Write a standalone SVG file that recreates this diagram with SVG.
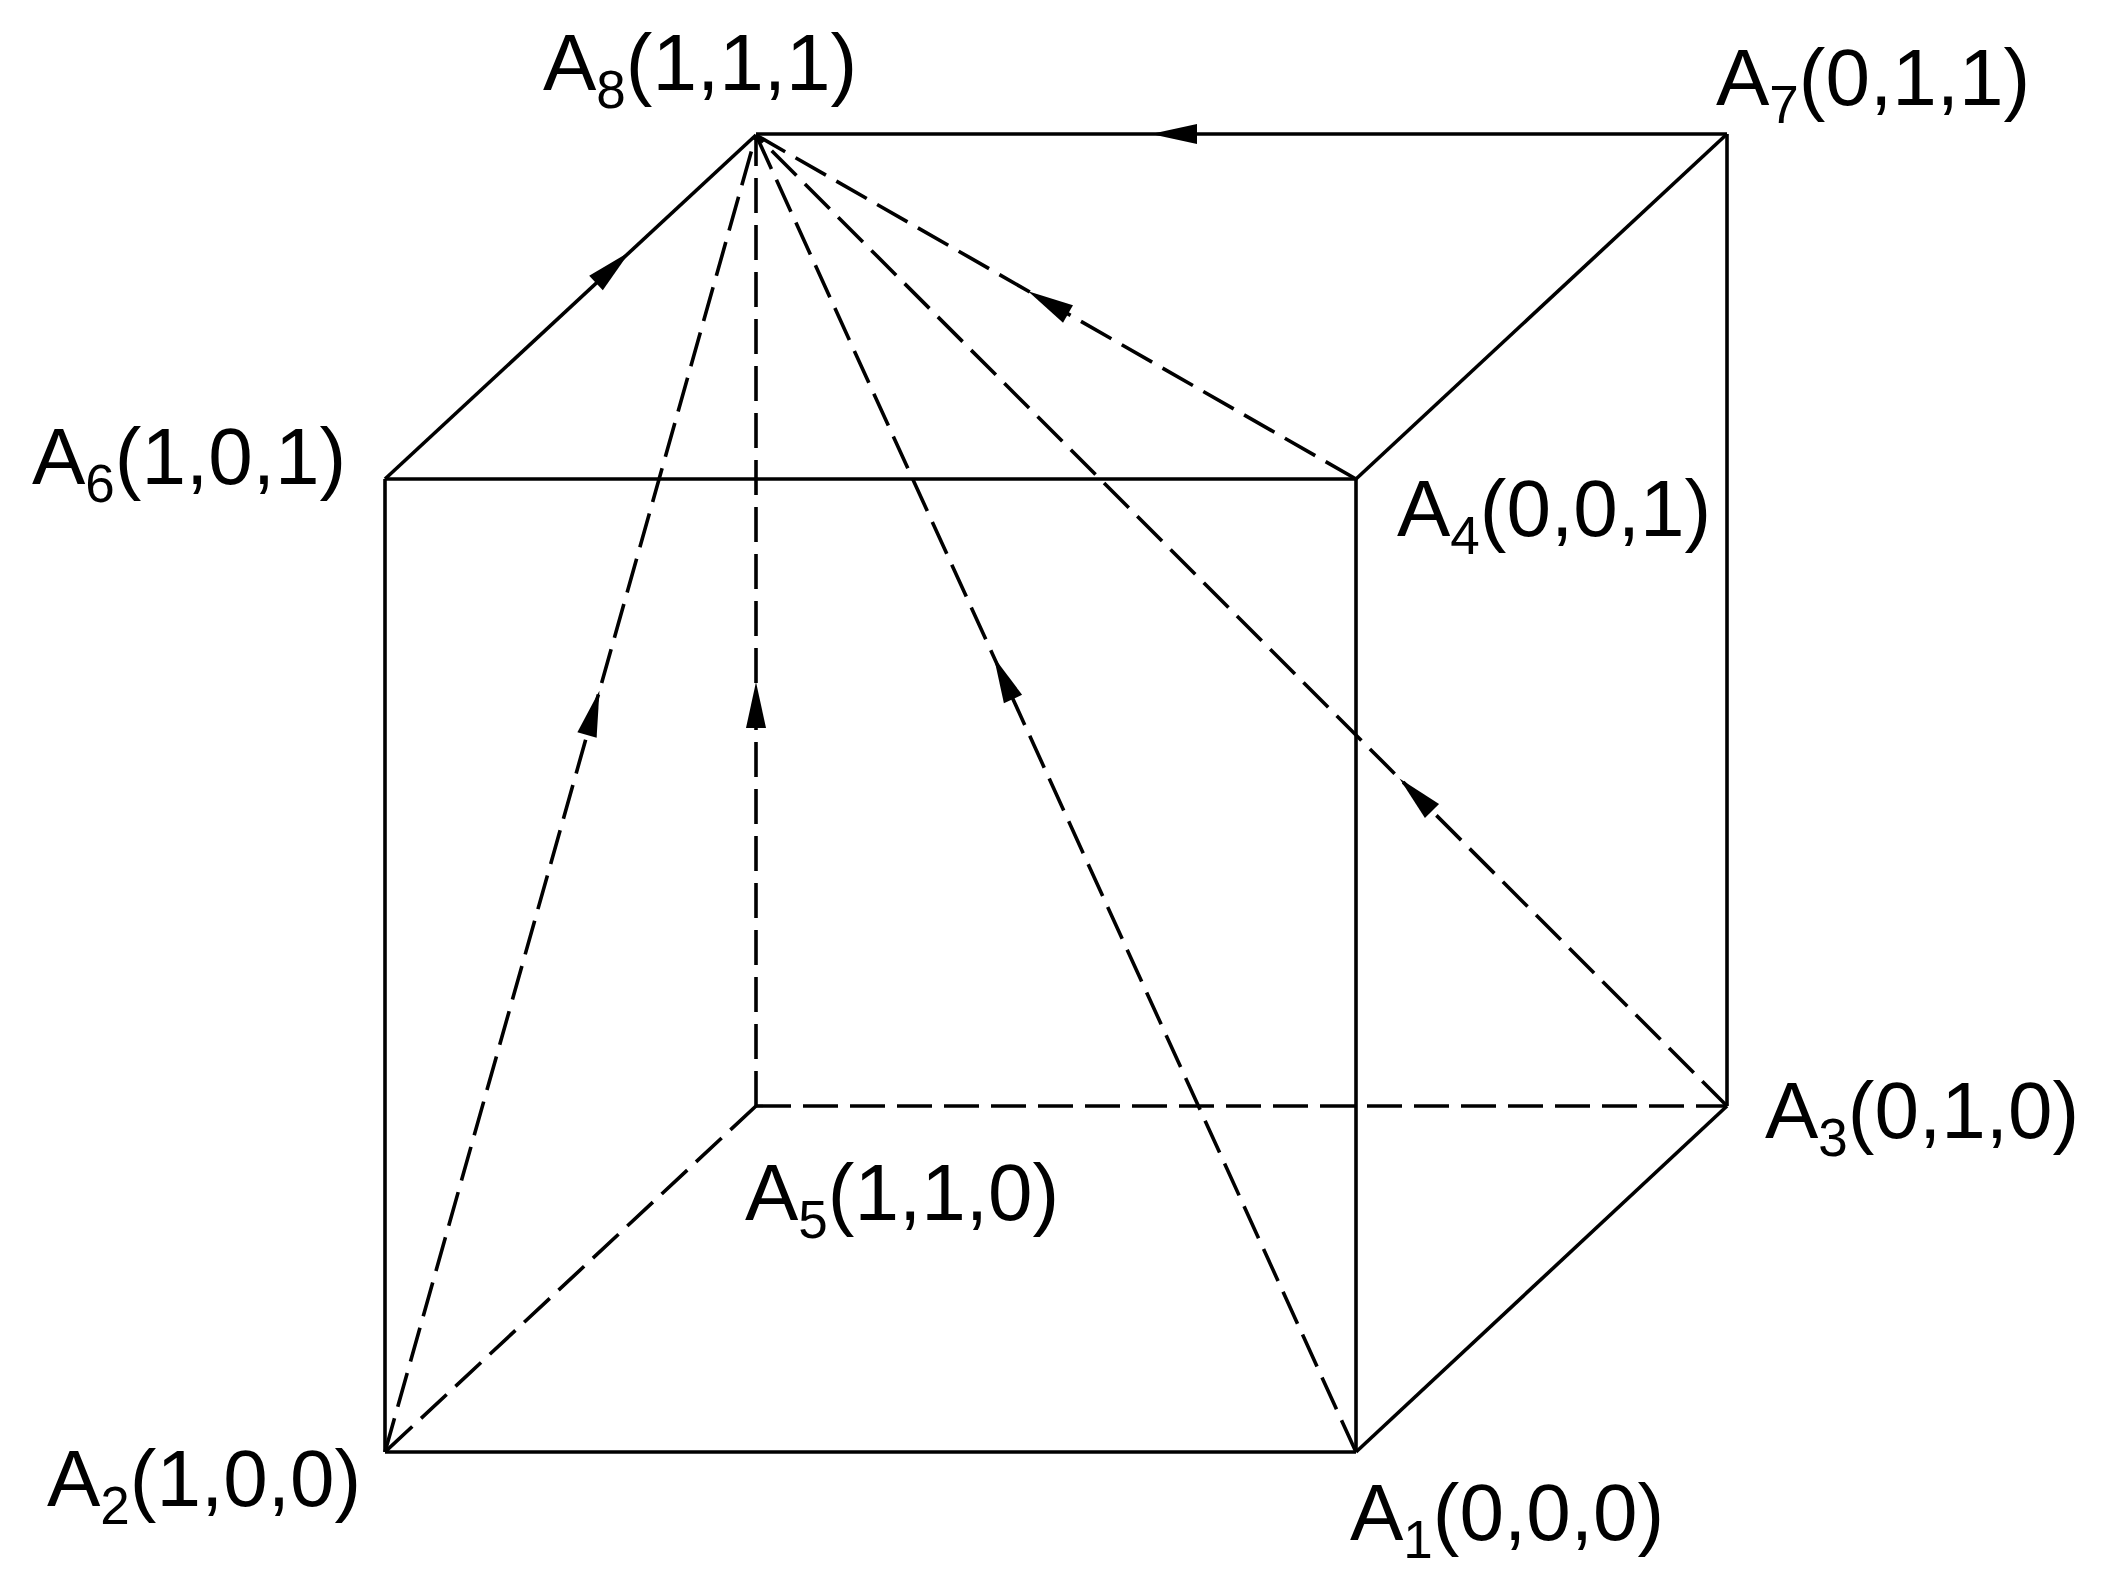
<svg xmlns="http://www.w3.org/2000/svg" xmlns:xlink="http://www.w3.org/1999/xlink" width="2107" height="1587" viewBox="0 0 2107 1587">
<style>
.edge{stroke:#000;stroke-width:3.6;fill:none;stroke-linecap:butt}
.dash{stroke-dasharray:35 12}
.lbl{font-family:"Liberation Sans",Arial,sans-serif;font-size:80px;fill:#000}
.sub{font-size:53px}
.ah{fill:#000;stroke:none}
</style>
<defs>
<polygon id="ah" points="0,-10 46,0 0,10"/>
</defs>
<rect width="2107" height="1587" fill="#fff"/>
<g id="connectors">
<line class="edge" x1="385" y1="479" x2="1356" y2="479"/>
<line class="edge" x1="1356" y1="479" x2="1356" y2="1452"/>
<line class="edge" x1="1356" y1="1452" x2="385" y2="1452"/>
<line class="edge" x1="385" y1="1452" x2="385" y2="479"/>
<line class="edge" x1="1727" y1="134" x2="756" y2="134"/>
<line class="edge" x1="1727" y1="134" x2="1727" y2="1106"/>
<line class="edge" x1="385" y1="479" x2="756" y2="135"/>
<line class="edge" x1="1356" y1="479" x2="1727" y2="134"/>
<line class="edge" x1="1356" y1="1452" x2="1727" y2="1106"/>
<line class="edge dash" x1="756" y1="1106" x2="756" y2="135"/>
<line class="edge dash" x1="756" y1="1106" x2="1727" y2="1106"/>
<line class="edge dash" x1="756" y1="1106" x2="385" y2="1452"/>
<line class="edge dash" x1="385" y1="1452" x2="756" y2="135"/>
<line class="edge dash" x1="1356" y1="1452" x2="756" y2="135"/>
<line class="edge dash" x1="1727" y1="1106" x2="756" y2="135"/>
<line class="edge dash" x1="1356" y1="479" x2="756" y2="135"/>
<use xlink:href="#ah" class="ah" transform="translate(1197,134) rotate(180)"/>
<use xlink:href="#ah" class="ah" transform="translate(596,283) rotate(-42.8)"/>
<use xlink:href="#ah" class="ah" transform="translate(587,735) rotate(-74.3)"/>
<use xlink:href="#ah" class="ah" transform="translate(756,728) rotate(-90)"/>
<use xlink:href="#ah" class="ah" transform="translate(1013,699) rotate(-114.5)"/>
<use xlink:href="#ah" class="ah" transform="translate(1432,811) rotate(-135)"/>
<use xlink:href="#ah" class="ah" transform="translate(1068,314) rotate(-150.2)"/>
</g>
<g id="A8"><text class="lbl" x="543" y="90">A<tspan class="sub" dy="18">8</tspan><tspan dy="-18">(1,1,1)</tspan></text></g>
<g id="A7"><text class="lbl" x="1716" y="105">A<tspan class="sub" dy="18">7</tspan><tspan dy="-18">(0,1,1)</tspan></text></g>
<g id="A6"><text class="lbl" x="32" y="484">A<tspan class="sub" dy="18">6</tspan><tspan dy="-18">(1,0,1)</tspan></text></g>
<g id="A4"><text class="lbl" x="1397" y="536">A<tspan class="sub" dy="18">4</tspan><tspan dy="-18">(0,0,1)</tspan></text></g>
<g id="A5"><text class="lbl" x="745" y="1220">A<tspan class="sub" dy="18">5</tspan><tspan dy="-18">(1,1,0)</tspan></text></g>
<g id="A3"><text class="lbl" x="1765" y="1138">A<tspan class="sub" dy="18">3</tspan><tspan dy="-18">(0,1,0)</tspan></text></g>
<g id="A2"><text class="lbl" x="47" y="1506">A<tspan class="sub" dy="18">2</tspan><tspan dy="-18">(1,0,0)</tspan></text></g>
<g id="A1"><text class="lbl" x="1350" y="1540">A<tspan class="sub" dy="18">1</tspan><tspan dy="-18">(0,0,0)</tspan></text></g>
</svg>
